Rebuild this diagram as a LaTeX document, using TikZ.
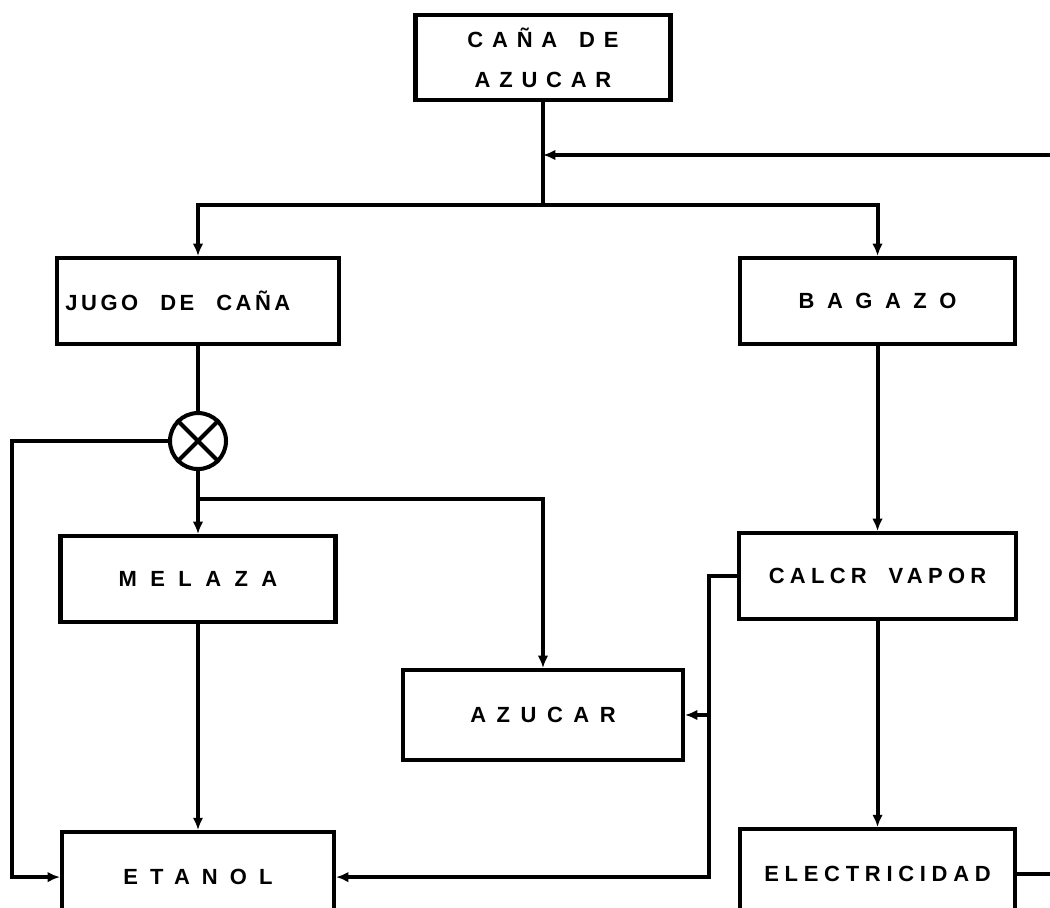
\documentclass[tikz,border=0pt]{standalone}
\usepackage{fontspec}
\usepackage{tikz}
\usetikzlibrary{arrows.meta,positioning,calc}
\newfontface\stencil{Liberation Sans Bold}
\newcommand{\lettering}[1]{\stencil\fontsize{12.5}{22.7}\selectfont\addfontfeatures{LetterSpace=#1}}
\newcommand{\gap}{\hspace{1em}}
\tikzset{
  flowbox/.style={draw=black, line width=2.3pt, minimum width=5.5cm, minimum height=1.72cm,
    inner sep=0pt, align=center, fill=white, font=\lettering{#1}},
  flowbox/.default={60},
  flow/.style={-{Latex[length=7pt,width=6pt]}, line width=2.3pt},
  link/.style={line width=2.3pt},
}

\begin{document}
\begin{tikzpicture}
  \useasboundingbox (0,0) rectangle (21,-18.16);
  \node[flowbox=40, minimum width=5.1cm, minimum height=1.7cm] (cana) at (10.86,-1.15) {CAÑA\gap DE\\AZUCAR};
  \node[flowbox=16, minimum width=5.64cm, text width=5.3cm, align=left] (jugo) at (3.96,-6.02) {JUGO\gap DE\gap CAÑA};
  \node[flowbox=57, right=7.94cm of jugo] (bagazo) {BAGAZO};
  \node[draw, circle, line width=2.3pt, minimum size=1.12cm, inner sep=0pt, below=1.3cm of jugo] (mix) {};
  \draw[link] (mix.north west) -- (mix.south east) (mix.north east) -- (mix.south west);
  \node[flowbox=61, below=3.76cm of jugo] (melaza) {MELAZA};
  \node[flowbox=24, minimum width=5.54cm, below=3.7cm of bagazo] (calor) {CALCR\gap VAPOR};
  \node[flowbox=48, minimum width=5.6cm, minimum height=1.8cm] (azucar) at (10.86,-14.3) {AZUCAR};
  \node[flowbox=55, minimum width=5.44cm, minimum height=1.8cm, below=4.12cm of melaza] (etanol) {ETANOL};
  \node[flowbox=26, minimum height=1.8cm, below=4.12cm of calor] (elec) {ELECTRICIDAD};

  \coordinate (split) at (cana.south |- 0,-4.1);
  \coordinate (ret) at (21,-3.1);
  \coordinate (tap) at (mix.south |- 0,-9.98);
  \coordinate (lft) at (0.24,0 |- mix.west);
  \coordinate (rgt) at (14.18,0 |- calor.west);
  \coordinate (out) at (21,0 |- elec.east);

  \draw[link] (cana) -- (split);
  \draw[flow] (split) -| (jugo);
  \draw[flow] (split) -| (bagazo);
  \draw[flow] (ret) -- (cana.south |- ret);
  \draw[link] (jugo) -- (mix);
  \draw[flow] (mix) -- (melaza);
  \draw[flow] (tap) -| (azucar);
  \draw[flow] (mix.west) -- (lft) |- (etanol);
  \draw[flow] (melaza) -- (etanol);
  \draw[flow] (bagazo) -- (calor);
  \draw[flow] (calor) -- (elec);
  \draw[flow] (calor.west) -- (rgt) |- (etanol);
  \draw[flow] (rgt |- azucar.east) -- (azucar);
  \draw[link] (elec) -- (out);
\end{tikzpicture}
\end{document}
